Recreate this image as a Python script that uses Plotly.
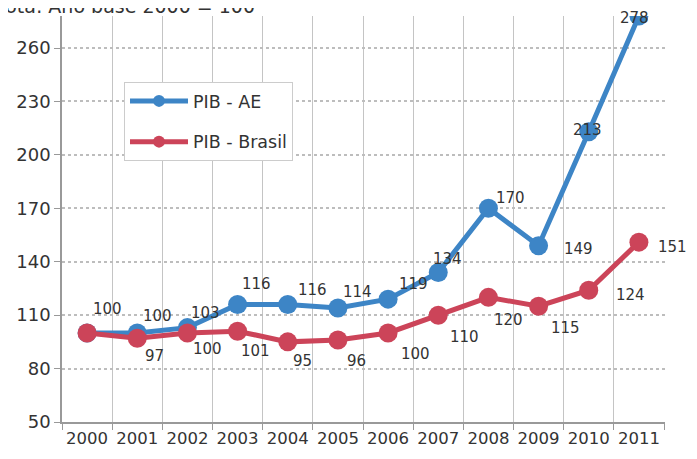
import plotly.graph_objects as go

# ---- data ----
years = [2000, 2001, 2002, 2003, 2004, 2005, 2006, 2007, 2008, 2009, 2010, 2011]
year_labels = [str(y) for y in years]
pib_ae = [100, 100, 103, 116, 116, 114, 119, 134, 170, 149, 213, 278]
pib_brasil = [100, 97, 100, 101, 95, 96, 100, 110, 120, 115, 124, 151]
y_ticks = [50, 80, 110, 140, 170, 200, 230, 260]
note_text = "Nota: Ano base 2000 = 100"

# ---- label placement (pixel offsets from each point: dx right, dy down; None = no label) ----
ae_label_off = [(20, -24), (20, -17), (18, -15), (19, -20), (25, -14), (20, -16),
                (25, -15), (9, -13), (22, -10), (40, 3), (-1, -2), (-4, 2)]
br_label_off = [None, (17, 18), (20, 16), (18, 20), (15, 19), (19, 21),
                (27, 21), (26, 22), (20, 23), (27, 22), (42, 5), (34, 5)]

BLUE = "#3d85c6"
RED = "#cc4459"
FONT = "DejaVu Sans"
TXT = "#333333"

fig = go.Figure()
fig.add_trace(go.Scatter(
    x=years, y=pib_ae, name="PIB - AE", mode="lines+markers",
    line=dict(color=BLUE, width=5), marker=dict(color=BLUE, size=19),
    legendgroup="a",
))
fig.add_trace(go.Scatter(
    x=years, y=pib_brasil, name="PIB - Brasil", mode="lines+markers",
    line=dict(color=RED, width=5), marker=dict(color=RED, size=19),
    legendgroup="b",
))

annotations = []
for series, offs in ((pib_ae, ae_label_off), (pib_brasil, br_label_off)):
    for xv, yv, off in zip(years, series, offs):
        if off is None:
            continue
        dx, dy = off
        annotations.append(dict(
            x=xv, y=yv, xref="x", yref="y", text=str(yv), showarrow=False,
            xshift=dx, yshift=-dy, font=dict(family=FONT, size=15, color=TXT),
        ))

annotations.append(dict(
    x=(257 - 62) / 603, y=1, xref="paper", yref="paper", xanchor="right",
    yanchor="bottom", yshift=-3, text=note_text, showarrow=False,
    font=dict(family=FONT, size=19, color=TXT),
))

fig.update_layout(
    width=697, height=459,
    margin=dict(l=54, r=40, t=8, b=45),
    paper_bgcolor="white", plot_bgcolor="white",
    font=dict(family=FONT, color=TXT),
    annotations=annotations,
    legend=dict(
        x=(124 - 62) / 603, y=(422 - 82) / 406, xanchor="left", yanchor="top",
        bgcolor="white", bordercolor="#cccccc", borderwidth=1,
        font=dict(family=FONT, size=17.5, color=TXT),
        itemwidth=58, itemsizing="constant", tracegroupgap=15,
        traceorder="grouped",
    ),
    xaxis=dict(
        range=[1999.5, 2011.52], tickmode="array", tickvals=years,
        ticktext=year_labels, showgrid=False, ticks="", automargin=False,
        tickfont=dict(family=FONT, size=16.5, color=TXT),
        showline=True, linecolor="#999999", linewidth=1.5,
        zeroline=False,
        minor=dict(tickmode="array", tickvals=[y + 0.5 for y in [1999] + years],
                   showgrid=True, gridcolor="#c4c4c4", gridwidth=1,
                   ticks="outside", ticklen=6, tickcolor="#999999"),
    ),
    yaxis=dict(
        range=[50, 278], tickmode="array", tickvals=y_ticks, automargin=False,
        showgrid=True, gridcolor="#bdbdbd", griddash="dot", gridwidth=1.5,
        ticks="outside", ticklen=6, tickcolor="#999999",
        tickfont=dict(family=FONT, size=18, color=TXT),
        showline=True, linecolor="#999999", linewidth=1.5, zeroline=False,
    ),
)

fig.write_html("out.html")
